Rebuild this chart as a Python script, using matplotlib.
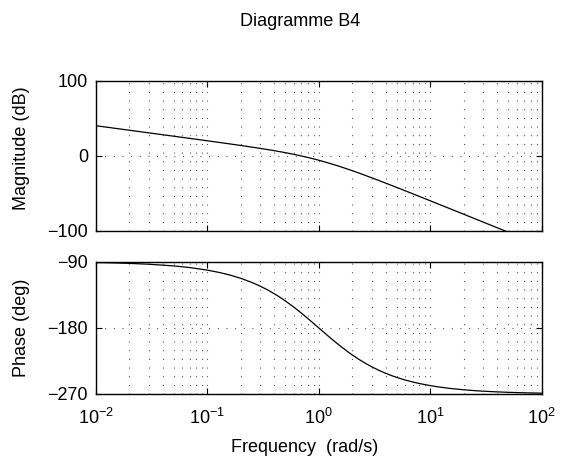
import numpy as np
import matplotlib
matplotlib.use("Agg")
import matplotlib.pyplot as plt
from matplotlib.ticker import FixedLocator, NullFormatter

plt.rcParams['font.family'] = ['Liberation Sans', 'DejaVu Sans']
plt.rcParams['mathtext.fontset'] = 'custom'
plt.rcParams['mathtext.rm'] = 'Liberation Sans'

# Data
freq = [0.01, 0.015, 0.02, 0.03, 0.05, 0.07, 0.1, 0.13, 0.16, 0.2, 0.25, 0.3, 0.35,
        0.4, 0.45, 0.5, 0.6, 0.7, 0.8, 0.9, 1.0, 1.1, 1.25, 1.4, 1.6, 1.8, 2.0, 2.3,
        2.6, 3.0, 3.5, 4.0, 4.5, 5.0, 6.0, 7.0, 8.0, 10.0, 12.0, 15.0, 20.0, 25.0,
        30.0, 40.0, 50.0, 70.0, 100.0]
magnitude_db = [40.0, 36.48, 33.97, 30.45, 26.0, 23.06, 19.91, 17.57, 15.70, 13.64,
                11.51, 9.71, 8.12, 6.67, 5.34, 4.08, 1.77, -0.37, -2.36, -4.24, -6.02,
                -7.72, -10.11, -12.35, -15.11, -17.65, -20.0, -23.21, -26.10, -29.54,
                -33.32, -36.65, -39.61, -42.28, -46.93, -50.88, -54.32, -60.09, -64.81,
                -70.60, -78.08, -83.89, -88.64, -96.13, -101.94, -110.71, -120.0]
phase_deg = [-91.15, -91.72, -92.29, -93.44, -95.72, -98.01, -101.42, -104.81, -108.18,
             -112.62, -118.07, -123.40, -128.58, -133.60, -138.46, -143.13, -151.93,
             -159.98, -167.32, -173.98, -180.0, -185.45, -192.68, -198.92, -205.97,
             -211.90, -216.87, -223.0, -227.92, -233.13, -238.10, -241.93, -244.94,
             -247.38, -251.08, -253.74, -255.75, -258.58, -260.48, -262.37, -264.28,
             -265.42, -266.18, -267.14, -267.71, -268.36, -268.85]

mag_ticks = [-100, 0, 100]
phase_ticks = [-270, -180, -90]
freq_ticks = [1e-2, 1e-1, 1e0, 1e1, 1e2]
freq_exponents = [-2, -1, 0, 1, 2]
title = "Diagramme B4"

fig = plt.figure(figsize=(5.61, 4.63), dpi=100)
W, H = 561, 463
def rect(l, t, r, b):
    return [l / W, 1 - b / H, (r - l) / W, (b - t) / H]

ax1 = fig.add_axes(rect(95.7, 80.7, 541.7, 230.7))
ax2 = fig.add_axes(rect(95.7, 261.7, 541.7, 394))

minor = [m * d for d in [1e-2, 1e-1, 1e0, 1e1] for m in range(2, 10)]
dots = (0, (0.8, 7))

for ax, y, ticks in [(ax1, magnitude_db, mag_ticks), (ax2, phase_deg, phase_ticks)]:
    ax.semilogx(freq, y, color='black', linewidth=0.9)
    ax.set_xlim(1e-2, 1e2)
    ax.set_ylim(ticks[0], ticks[-1])
    ax.yaxis.set_major_locator(FixedLocator(ticks))
    ax.xaxis.set_major_locator(FixedLocator(freq_ticks))
    ax.xaxis.set_minor_locator(FixedLocator(minor))
    ax.xaxis.set_minor_formatter(NullFormatter())
    ax.grid(True, which='major', axis='both', linestyle=dots, color='#333333', linewidth=0.8)
    ax.grid(True, which='minor', axis='x', linestyle=dots, color='#333333', linewidth=0.8)
    ax.tick_params(which='both', direction='in', top=True, right=True, labelsize=13)
    ax.tick_params(which='major', length=4, width=0.8)
    ax.tick_params(which='minor', length=0)
    ax.tick_params(axis='y', pad=5.5)
    for s in ax.spines.values():
        s.set_linewidth(1.0)
    ax.set_yticklabels(['\u2212' + str(-t) if t < 0 else str(t) for t in ticks])

ax1.tick_params(axis='x', labelbottom=False)
ax2.set_xticklabels([r'$\mathregular{10^{%d}}$' % e for e in freq_exponents])
ax2.tick_params(axis='x', pad=10)

fig.text(300 / W, 1 - 22 / H, title, ha='center', va='center', fontsize=13)
fig.text(305 / W, 1 - 447 / H, "Frequency  (rad/s)", ha='center', va='center', fontsize=13)
fig.text(22 / W, 1 - 148 / H, "Magnitude (dB)", ha='center', va='center', rotation=90, fontsize=13)
fig.text(22 / W, 1 - 328 / H, "Phase (deg)", ha='center', va='center', rotation=90, fontsize=13)

fig.savefig("out.png", dpi=100)
